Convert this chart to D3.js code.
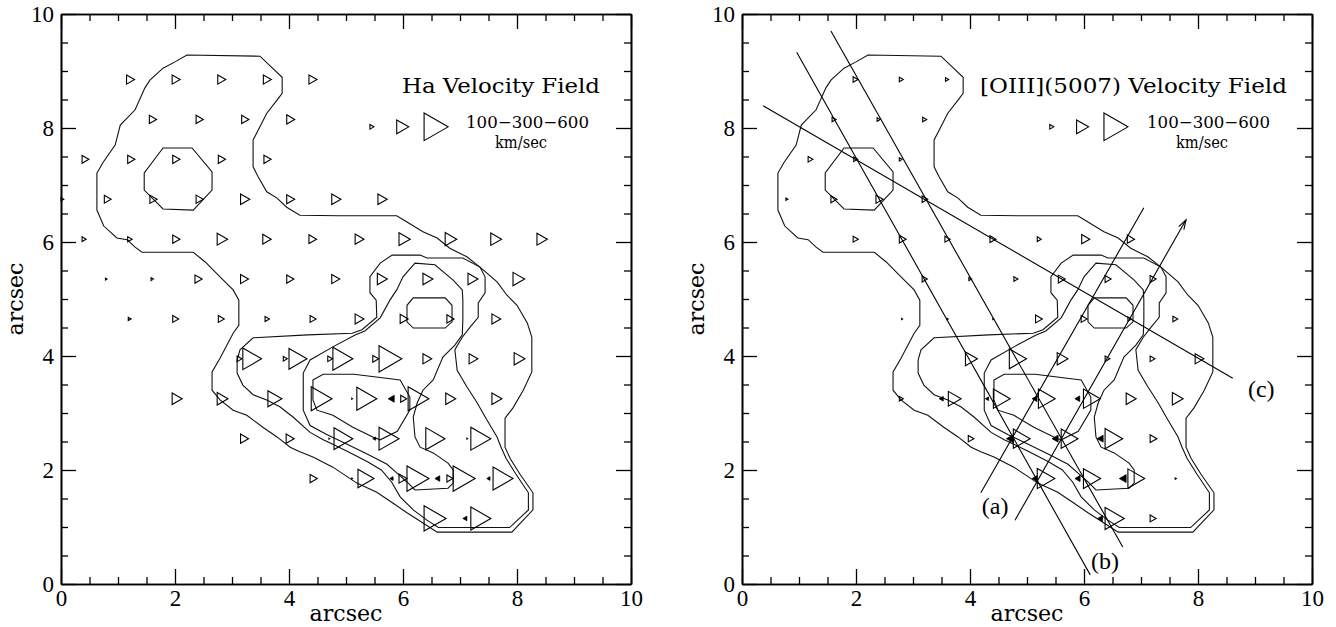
<!DOCTYPE html>
<html><head><meta charset="utf-8">
<script src="https://cdn.jsdelivr.net/npm/d3@7"></script>
<style>html,body{margin:0;padding:0;background:#fff;}</style>
</head><body>
<svg id="chart" width="1336" height="627"></svg>
<script>
// ---------------- DATA ----------------
const majorTicks = [0, 2, 4, 6, 8, 10];
const minorTicks = [0.5,1,1.5,2.5,3,3.5,4.5,5,5.5,6.5,7,7.5,8.5,9,9.5];
const titles = ["Ha Velocity Field", "[OIII](5007) Velocity Field"];
const legendVelocities = [100, 300, 600];
const legendX = [5.42, 5.89, 6.37];
const legendText = ["100\u2212300\u2212600", "km/sec"];

// contours (arcsec), shared by both panels
const contourOuter = [[2.21,9.28],[3.49,9.26],[3.88,8.89],[3.88,8.61],[3.79,8.49],[3.61,8.26],[3.49,8.02],[3.37,7.79],[3.37,7.32],[3.46,7.14],[3.61,6.88],[3.79,6.77],[3.96,6.61],[4.19,6.47],[4.89,6.46],[5.89,6.46],[6.07,6.35],[6.35,6.18],[6.60,6.07],[6.82,5.89],[7.12,5.74],[7.35,5.56],[7.65,5.30],[7.82,5.07],[8.0,4.89],[8.18,4.58],[8.26,4.33],[8.26,3.72],[8.11,3.40],[7.93,3.09],[7.79,2.91],[7.79,2.40],[7.88,2.20],[8.05,1.93],[8.28,1.60],[8.28,1.30],[7.91,0.91],[6.60,0.91],[6.35,1.07],[6.07,1.25],[5.82,1.42],[5.54,1.61],[5.19,1.77],[4.77,2.05],[4.42,2.23],[4.19,2.32],[4.02,2.40],[3.79,2.58],[3.54,2.75],[3.26,2.96],[3.02,3.05],[2.79,3.23],[2.65,3.40],[2.65,3.72],[2.79,3.96],[3.02,4.40],[3.12,4.54],[3.12,4.98],[3.02,5.16],[2.79,5.39],[2.53,5.65],[2.32,5.82],[1.42,5.82],[1.30,5.91],[1.16,6.04],[0.98,6.07],[0.75,6.28],[0.63,6.56],[0.63,7.21],[0.74,7.40],[0.95,7.70],[1.04,8.05],[1.30,8.32],[1.47,8.70],[1.56,8.84],[1.79,9.05],[2.0,9.16]];
const contourCircle = [[1.79,7.65],[2.30,7.65],[2.65,7.23],[2.65,6.91],[2.32,6.56],[1.79,6.58],[1.46,6.91],[1.46,7.21]];
const contourMid = [[5.81,5.77],[6.30,5.77],[6.42,5.72],[7.05,5.72],[7.35,5.56],[7.44,5.39],[7.44,5.11],[7.32,4.93],[7.32,4.68],[7.18,4.51],[7.04,4.33],[6.91,4.11],[6.95,3.75],[7.12,3.46],[7.30,3.18],[7.47,2.88],[7.65,2.58],[7.72,2.40],[7.81,2.20],[7.98,1.93],[8.20,1.60],[8.20,1.30],[7.87,0.99],[6.62,0.99],[6.42,1.12],[6.18,1.30],[5.95,1.53],[5.80,1.79],[5.62,2.0],[5.37,2.15],[5.02,2.33],[4.77,2.45],[4.60,2.53],[4.37,2.66],[4.07,2.93],[3.84,3.11],[3.61,3.23],[3.37,3.32],[3.19,3.49],[3.09,3.70],[3.09,3.93],[3.14,4.11],[3.37,4.32],[4.33,4.37],[5.11,4.40],[5.28,4.46],[5.54,4.68],[5.53,4.98],[5.42,5.11],[5.42,5.39],[5.60,5.63]];
const contourInner = [[6.21,5.63],[6.56,5.60],[6.88,5.33],[7.04,5.16],[7.05,4.98],[7.05,4.63],[7.04,4.37],[6.91,4.19],[6.70,3.98],[6.53,3.58],[6.35,3.40],[6.25,3.18],[6.18,2.93],[6.21,2.58],[6.30,2.40],[6.53,2.30],[6.79,2.12],[6.88,2.0],[6.88,1.77],[6.79,1.68],[6.21,1.65],[6.07,1.79],[5.89,1.95],[5.72,2.10],[5.37,2.28],[5.02,2.45],[4.67,2.62],[4.37,2.78],[4.25,3.05],[4.25,3.70],[4.37,3.93],[4.77,4.16],[5.16,4.37],[5.33,4.44],[5.60,4.67],[5.77,4.98],[5.89,5.16],[6.0,5.39]];
const contourPeak = [[6.18,5.02],[6.74,5.02],[6.86,4.89],[6.86,4.60],[6.74,4.49],[6.18,4.49],[6.07,4.60],[6.07,4.89]];
const contourKnot = [[4.42,3.58],[4.60,3.68],[5.14,3.68],[5.95,3.58],[6.12,3.28],[6.12,3.05],[5.90,2.68],[5.60,2.53],[5.47,2.58],[5.12,2.75],[4.77,2.96],[4.49,3.05],[4.42,3.23],[4.42,3.46]];
const contours = [contourOuter, contourCircle, contourMid, contourInner, contourPeak, contourKnot];

// velocity symbols: [x (arcsec, left end), y (arcsec), velocity km/s]
const haOpen = [
 [1.15,8.85,200],[1.95,8.85,200],[2.75,8.85,200],[3.55,8.85,200],[4.35,8.85,200],
 [1.55,8.15,180],[2.37,8.15,180],[3.17,8.15,180],[3.96,8.15,200],
 [0.37,7.45,170],[1.17,7.45,180],[1.96,7.45,180],[2.76,7.45,180],[3.56,7.45,180],
 [0.0,6.75,70],[0.76,6.75,170],[1.56,6.75,180],[2.37,6.75,180],[3.15,6.75,230],[3.96,6.75,200],[4.75,6.75,230],[5.56,6.75,230],
 [0.37,6.05,100],[1.17,6.05,110],[1.96,6.05,180],[2.74,6.05,260],[3.54,6.05,210],[4.35,6.05,190],[5.16,6.05,220],[5.93,6.05,280],[6.74,6.05,290],[7.54,6.05,270],[8.35,6.05,260],
 [0.78,5.35,40],[1.58,5.35,60],[2.35,5.35,180],[3.15,5.35,200],[3.96,5.35,180],[4.75,5.35,200],[5.55,5.35,250],[6.35,5.35,250],[7.14,5.35,250],[7.93,5.35,290],
 [1.18,4.65,70],[1.96,4.65,150],[2.76,4.65,150],[3.58,4.65,110],[4.37,4.65,150],[5.16,4.65,220],[5.95,4.65,200],[6.77,4.65,180],[7.56,4.65,220],
 [3.09,3.95,120],[3.19,3.95,470],[3.90,3.95,100],[4.00,3.95,450],[4.68,3.95,120],[4.77,3.95,500],[5.47,3.95,150],[5.58,3.95,570],[6.35,3.95,220],[7.16,3.95,220],[7.95,3.95,270],
 [1.95,3.25,250],[2.74,3.25,270],[3.63,3.25,350],[4.39,3.25,520],[5.10,3.25,20],[5.19,3.25,500],[5.96,3.25,150],[6.09,3.25,520],[6.75,3.25,250],[7.56,3.25,250],
 [3.15,2.55,200],[3.95,2.55,200],[4.70,2.55,20],[4.79,2.55,470],[5.58,2.55,500],[6.40,2.55,480],[7.12,2.55,20],[7.19,2.55,500],
 [4.37,1.85,180],[5.10,1.85,20],[5.21,1.85,400],[5.93,1.85,200],[6.07,1.85,550],[6.77,1.85,150],[6.88,1.85,550],[7.58,1.85,500],
 [6.37,1.15,550],[7.19,1.15,500]
];
const haFilled = [[5.74,3.25,150],[5.47,2.55,70],[5.77,1.85,80],[6.56,1.85,120],[7.47,1.85,80],[7.05,1.15,100]];

const o3Open = [
 [1.95,8.85,120],[2.76,8.85,100],[3.57,8.85,80],
 [1.58,8.15,100],[2.37,8.15,80],[3.17,8.15,100],
 [1.16,7.45,120],[1.96,7.45,100],[2.76,7.45,70],
 [0.77,6.75,50],[1.56,6.75,150],[2.35,6.75,180],[3.16,6.75,140],
 [1.95,6.05,130],[2.76,6.05,170],[3.56,6.05,130],[4.35,6.05,150],[5.18,6.05,100],[5.96,6.05,200],[6.76,6.05,180],
 [3.16,5.35,130],[3.98,5.35,70],[4.77,5.35,100],[5.55,5.35,170],[6.37,5.35,150],[7.16,5.35,150],
 [2.80,4.65,25],[3.60,4.65,25],[4.40,4.65,25],[5.15,4.65,170],[5.95,4.65,150],[6.77,4.65,90],[7.56,4.65,120],
 [3.92,3.95,300],[4.69,3.95,430],[5.53,3.95,270],[6.37,3.95,120],[7.16,3.95,120],[7.95,3.95,220],
 [2.76,3.25,100],[3.62,3.25,320],[4.41,3.25,420],[5.20,3.25,420],[5.99,3.25,420],[6.74,3.25,250],[7.55,3.25,270],
 [3.97,2.55,140],[4.76,2.55,420],[5.60,2.55,420],[6.37,2.55,440],[7.16,2.55,170],
 [5.18,1.85,440],[5.99,1.85,430],[6.77,1.85,420],[7.60,1.85,30],
 [6.37,1.15,480],[7.16,1.15,150]
];
const o3Filled = [[3.46,3.25,100],[4.27,3.25,80],[5.09,3.25,120],[5.84,3.25,120],
 [4.64,2.55,170],[5.44,2.55,150],[6.23,2.55,150],
 [5.09,1.85,120],[5.84,1.85,130],[6.62,1.85,170],[6.24,1.15,120]];

// slit positions on the [OIII] panel
const slitStart = [[4.19,1.60],[4.79,1.12],[0.96,9.33],[1.56,9.70],[0.37,8.39]];
const slitEnd   = [[7.05,6.60],[7.79,6.39],[6.11,0.16],[6.68,0.65],[8.61,3.61]];
const slitArrow = [false, true, false, false, false];
const slitLabels = ["(a)", "(b)", "(c)"];
const slitLabelPos = [[4.44,1.23],[6.37,0.26],[9.11,3.28]];

// ---------------- DRAW ----------------
const svg = d3.select("#chart");
const panelLeft = [61, 742];
const size = 570, top0 = 14, bottom0 = 584;
const vsize = d3.scaleLinear().domain([0, 600]).range([0, 24]);
const serif = "'Liberation Serif', 'Times New Roman', serif";
const slab = "'DejaVu Serif', serif";

function panel(i, openData, filledData) {
  const x = d3.scaleLinear().domain([0, 10]).range([panelLeft[i], panelLeft[i] + size]);
  const y = d3.scaleLinear().domain([0, 10]).range([bottom0, top0]);
  const g = svg.append("g");

  const mk = (axis, scale, vals, len, labels) => axis(scale).tickValues(vals).tickSizeInner(-len).tickSizeOuter(0)
      .tickFormat(labels ? d3.format("d") : "");
  const axes = [
    [d3.axisBottom, x, `translate(0,${bottom0})`, true, 6],
    [d3.axisTop, x, `translate(0,${top0})`, false, 0],
    [d3.axisLeft, y, `translate(${panelLeft[i]},0)`, true, 7],
    [d3.axisRight, y, `translate(${panelLeft[i] + size},0)`, false, 0]
  ];
  axes.forEach(([ax, sc, tr, lab, pad]) => {
    const a1 = g.append("g").attr("transform", tr).call(mk(ax, sc, majorTicks, 15, lab).tickPadding(pad));
    const a2 = g.append("g").attr("transform", tr).call(mk(ax, sc, minorTicks, 7, false));
    [a1, a2].forEach(a => {
      a.selectAll("path.domain").attr("stroke", "#000").attr("stroke-width", 1.6);
      a.selectAll(".tick line").attr("stroke", "#000").attr("stroke-width", 1.3);
      a.selectAll("text").attr("font-family", serif).attr("font-size", 23).attr("fill", "#000");
    });
  });

  // axis titles
  g.append("text").attr("x", panelLeft[i] + size / 2).attr("y", 621).attr("text-anchor", "middle")
    .attr("font-family", slab).attr("font-size", 22).attr("textLength", 73).attr("lengthAdjust", "spacingAndGlyphs").text("arcsec");
  g.append("text").attr("transform", `translate(${panelLeft[i] - 38},${y(5)}) rotate(-90)`).attr("text-anchor", "middle")
    .attr("font-family", slab).attr("font-size", 22).attr("textLength", 73).attr("lengthAdjust", "spacingAndGlyphs").text("arcsec");

  // contours
  const line = d3.line().x(d => x(d[0])).y(d => y(d[1])).curve(d3.curveLinearClosed);
  g.append("g").selectAll("path").data(contours).join("path")
    .attr("d", line).attr("fill", "none").attr("stroke", "#111").attr("stroke-width", 1.1);

  // velocity triangles
  const tri = d => {
    const w = vsize(d[2]), h = w * 1.15, px = x(d[0]), py = y(d[1]);
    return `M${px},${py - h / 2}L${px + w},${py}L${px},${py + h / 2}Z`;
  };
  const triL = d => {
    const w = vsize(d[2]), h = w * 1.15, px = x(d[0]), py = y(d[1]);
    return `M${px + w},${py - h / 2}L${px},${py}L${px + w},${py + h / 2}Z`;
  };
  g.append("g").selectAll("path").data(openData).join("path").attr("d", tri)
    .attr("fill", "none").attr("stroke", "#000").attr("stroke-width", 1.1).attr("stroke-linejoin", "miter");
  g.append("g").selectAll("path").data(filledData).join("path").attr("d", triL)
    .attr("fill", "#000").attr("stroke", "#000").attr("stroke-width", 0.8);

  // title and legend
  const tl = [198, 307][i];
  const tEnd = [539, 545][i];
  g.append("text").attr("x", panelLeft[i] + tEnd).attr("y", 93).attr("text-anchor", "end")
    .attr("font-family", slab).attr("font-size", 21).attr("textLength", tl).attr("lengthAdjust", "spacingAndGlyphs").text(titles[i]);
  g.append("g").selectAll("path").data(legendVelocities.map((v, k) => [legendX[k] - (i ? 0.02 : 0), 8.02, v])).join("path")
    .attr("d", tri).attr("fill", "none").attr("stroke", "#000").attr("stroke-width", 1.1);
  g.append("text").attr("x", panelLeft[i] + 405).attr("y", 128).attr("font-family", slab).attr("font-size", 17)
    .attr("textLength", 123).attr("lengthAdjust", "spacingAndGlyphs").text(legendText[0]);
  g.append("text").attr("x", panelLeft[i] + 460).attr("y", 148).attr("text-anchor", "middle").attr("font-family", slab).attr("font-size", 16)
    .attr("textLength", 52).attr("lengthAdjust", "spacingAndGlyphs").text(legendText[1]);
  return {x, y, g};
}

panel(0, haOpen, haFilled);
const p2 = panel(1, o3Open, o3Filled);

// slits on right panel
slitStart.forEach((s, k) => {
  const e = slitEnd[k];
  p2.g.append("line").attr("x1", p2.x(s[0])).attr("y1", p2.y(s[1])).attr("x2", p2.x(e[0])).attr("y2", p2.y(e[1]))
    .attr("stroke", "#000").attr("stroke-width", 1.1);
  if (slitArrow[k]) {
    const ex = p2.x(e[0]), ey = p2.y(e[1]);
    const ang = Math.atan2(ey - p2.y(s[1]), ex - p2.x(s[0]));
    const L = 10, a = 0.3;
    p2.g.append("path").attr("d", `M${ex - L * Math.cos(ang - a)},${ey - L * Math.sin(ang - a)}L${ex},${ey}L${ex - L * Math.cos(ang + a)},${ey - L * Math.sin(ang + a)}`)
      .attr("fill", "none").attr("stroke", "#000").attr("stroke-width", 1.1);
  }
});
p2.g.append("g").selectAll("text").data(slitLabels).join("text")
  .attr("x", (d, k) => p2.x(slitLabelPos[k][0])).attr("y", (d, k) => p2.y(slitLabelPos[k][1]))
  .attr("text-anchor", "middle").attr("font-family", serif).attr("font-size", 24).text(d => d);
</script>
</body></html>
